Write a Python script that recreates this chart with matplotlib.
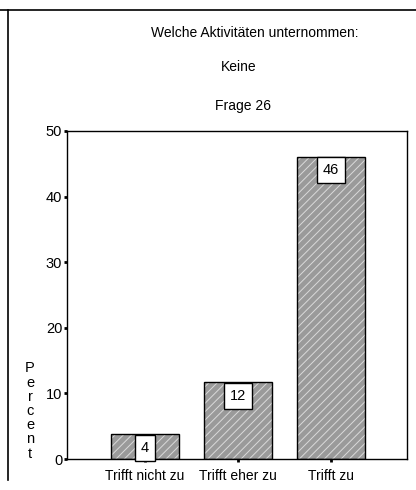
import matplotlib
matplotlib.use("Agg")
import matplotlib.pyplot as plt
from matplotlib.lines import Line2D

# Data
categories = ["Trifft nicht zu", "Trifft eher zu", "Trifft zu"]
percent = [3.8, 11.7, 46.1]
bar_labels = ["4", "12", "46"]
y_ticks = [0, 10, 20, 30, 40, 50]

plt.rcParams["font.family"] = ["Liberation Sans", "DejaVu Sans"]
plt.rcParams["hatch.linewidth"] = 0.7

fig = plt.figure(figsize=(4.16, 4.90), dpi=100)
W, H = 416, 490
ax = fig.add_axes([67 / W, 1 - 459 / H, 340 / W, 328 / H])

x = list(range(len(categories)))
# hatched gray fill, then black outline on top
ax.bar(x, percent, width=0.73, color="#9a9a9a", edgecolor="#dadada",
       hatch="////", linewidth=0, zorder=2)
ax.bar(x, percent, width=0.73, fill=False, edgecolor="black",
       linewidth=1.0, zorder=3)

ax.set_xlim(-0.84, 2.82)
ax.set_ylim(0, 50)
ax.set_yticks(y_ticks)
ax.set_xticks(x)
ax.set_xticklabels(categories)
ax.tick_params(axis="y", direction="out", length=2.5, width=2, labelsize=10.5, pad=1)
ax.tick_params(axis="x", direction="out", length=2.5, width=2, labelsize=10, pad=5)
for s in ax.spines.values():
    s.set_linewidth(1.0)

# value labels in boxes at top of each bar
for xi, val, lab in zip(x, percent, bar_labels):
    ax.annotate(lab, (xi, val), xytext=(0, -4.8), textcoords="offset points",
                ha="center", va="top", fontsize=10.5, zorder=5,
                bbox=dict(boxstyle="square,pad=0.42", fc="white", ec="black", lw=1))

# stacked y label
fig.text(30 / W, 1 - 411 / H, "\n".join("Percent"), ha="center", va="center",
         fontsize=10.5, linespacing=1.02)

# titles
fig.text(255 / W, 1 - 33 / H, "Welche Aktivitäten unternommen:", ha="center",
         va="center", fontsize=10)
fig.text(239 / W, 1 - 67 / H, "Keine", ha="center", va="center", fontsize=10)
fig.text(243 / W, 1 - 106 / H, "Frage 26", ha="center", va="center", fontsize=10)

# outer frame lines
fig.add_artist(Line2D([0, 1], [1 - 10 / H, 1 - 10 / H], color="black", lw=1.2))
fig.add_artist(Line2D([8 / W, 8 / W], [1 - 10 / H, 1 - 480 / H], color="black", lw=1.2))

fig.savefig("out.png", dpi=100)
